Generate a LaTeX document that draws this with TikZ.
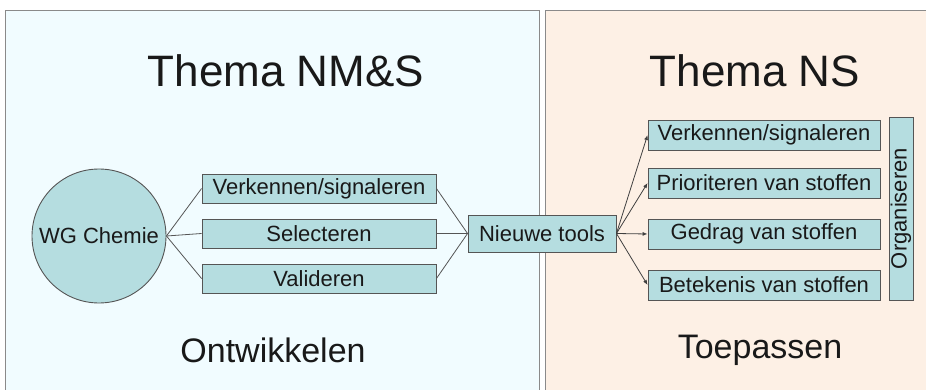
\documentclass[tikz,border=0pt]{standalone}
\usepackage{fontspec}
\setmainfont{Liberation Sans}
\usetikzlibrary{arrows.meta}
\definecolor{leftbg}{HTML}{F1FCFF}
\definecolor{rightbg}{HTML}{FDF0E5}
\definecolor{boxfill}{HTML}{B5DDE0}
\definecolor{edgecol}{HTML}{555555}
\definecolor{panelcol}{HTML}{8A8A8A}
\tikzset{
  panel/.style={draw=panelcol, line width=0.9pt},
  tbox/.style={draw=edgecol, line width=0.9pt, fill=boxfill, rectangle, inner sep=0pt,
    font=\fontsize{22}{24}\selectfont, text=black!90},
  lbox/.style={tbox, minimum width=234pt, minimum height=29pt},
  rbox/.style={tbox, minimum width=232pt, minimum height=30pt},
  circ/.style={draw=edgecol, line width=0.9pt, fill=boxfill, circle, minimum size=134pt, inner sep=0pt,
    font=\fontsize{22}{24}\selectfont, text=black!90},
  conn/.style={draw=edgecol, line width=0.8pt},
  arr/.style={draw=black!75, line width=0.8pt, -{Latex[length=5pt,width=4pt]}},
  title/.style={font=\fontsize{44}{48}\selectfont, text=black!90},
  sub/.style={font=\fontsize{34}{38}\selectfont, text=black!90},
}
\begin{document}
\begin{tikzpicture}[x=1pt,y=-1pt]
\clip (0,0) rectangle (926,390);
\fill[white] (0,0) rectangle (926,390);
\draw[panel, fill=leftbg] (5,10) rectangle (539,400);
\draw[panel, fill=rightbg] (545,10) rectangle (940,400);

\node[title] (t1) at (286,71) {Thema NM\&S};
\node[title] (t2) at (755,71) {Thema NS};
\node[sub] (s1) at (273,350) {Ontwikkelen};
\node[sub] (s2) at (760,350) {Toepassen};

\node[circ] (wg) at (99,236) {WG Chemie};
\node[lbox] (l1) at (319,188.5) {Verkennen/signaleren};
\node[lbox] (l2) at (319,233.5) {Selecteren};
\node[lbox] (l3) at (319,278.5) {Valideren};
\node[tbox, minimum width=148pt, minimum height=37pt] (nt) at (542,233.5) {Nieuwe tools};

\node[rbox] (r1) at (764,135) {Verkennen/signaleren};
\node[rbox] (r2) at (764,183) {Prioriteren van stoffen};
\node[rbox] (r3) at (764,234) {Gedrag van stoffen};
\node[rbox] (r4) at (764,285) {Betekenis van stoffen};
\node[tbox, minimum width=24pt, minimum height=183pt] (org) at (901,208.5) {\rotatebox{90}{Organiseren}};

\draw[conn] (wg.east) -- (l1.west);
\draw[conn] (wg.east) -- (l2.west);
\draw[conn] (wg.east) -- (l3.west);
\draw[conn] (l1.east) -- (nt.west);
\draw[conn] (l2.east) -- (nt.west);
\draw[conn] (l3.east) -- (nt.west);

\draw[arr] (nt.east) -- (r1.west);
\draw[arr] (nt.east) -- (r2.west);
\draw[arr] (nt.east) -- (r3.west);
\draw[arr] (nt.east) -- (r4.west);
\end{tikzpicture}
\end{document}
